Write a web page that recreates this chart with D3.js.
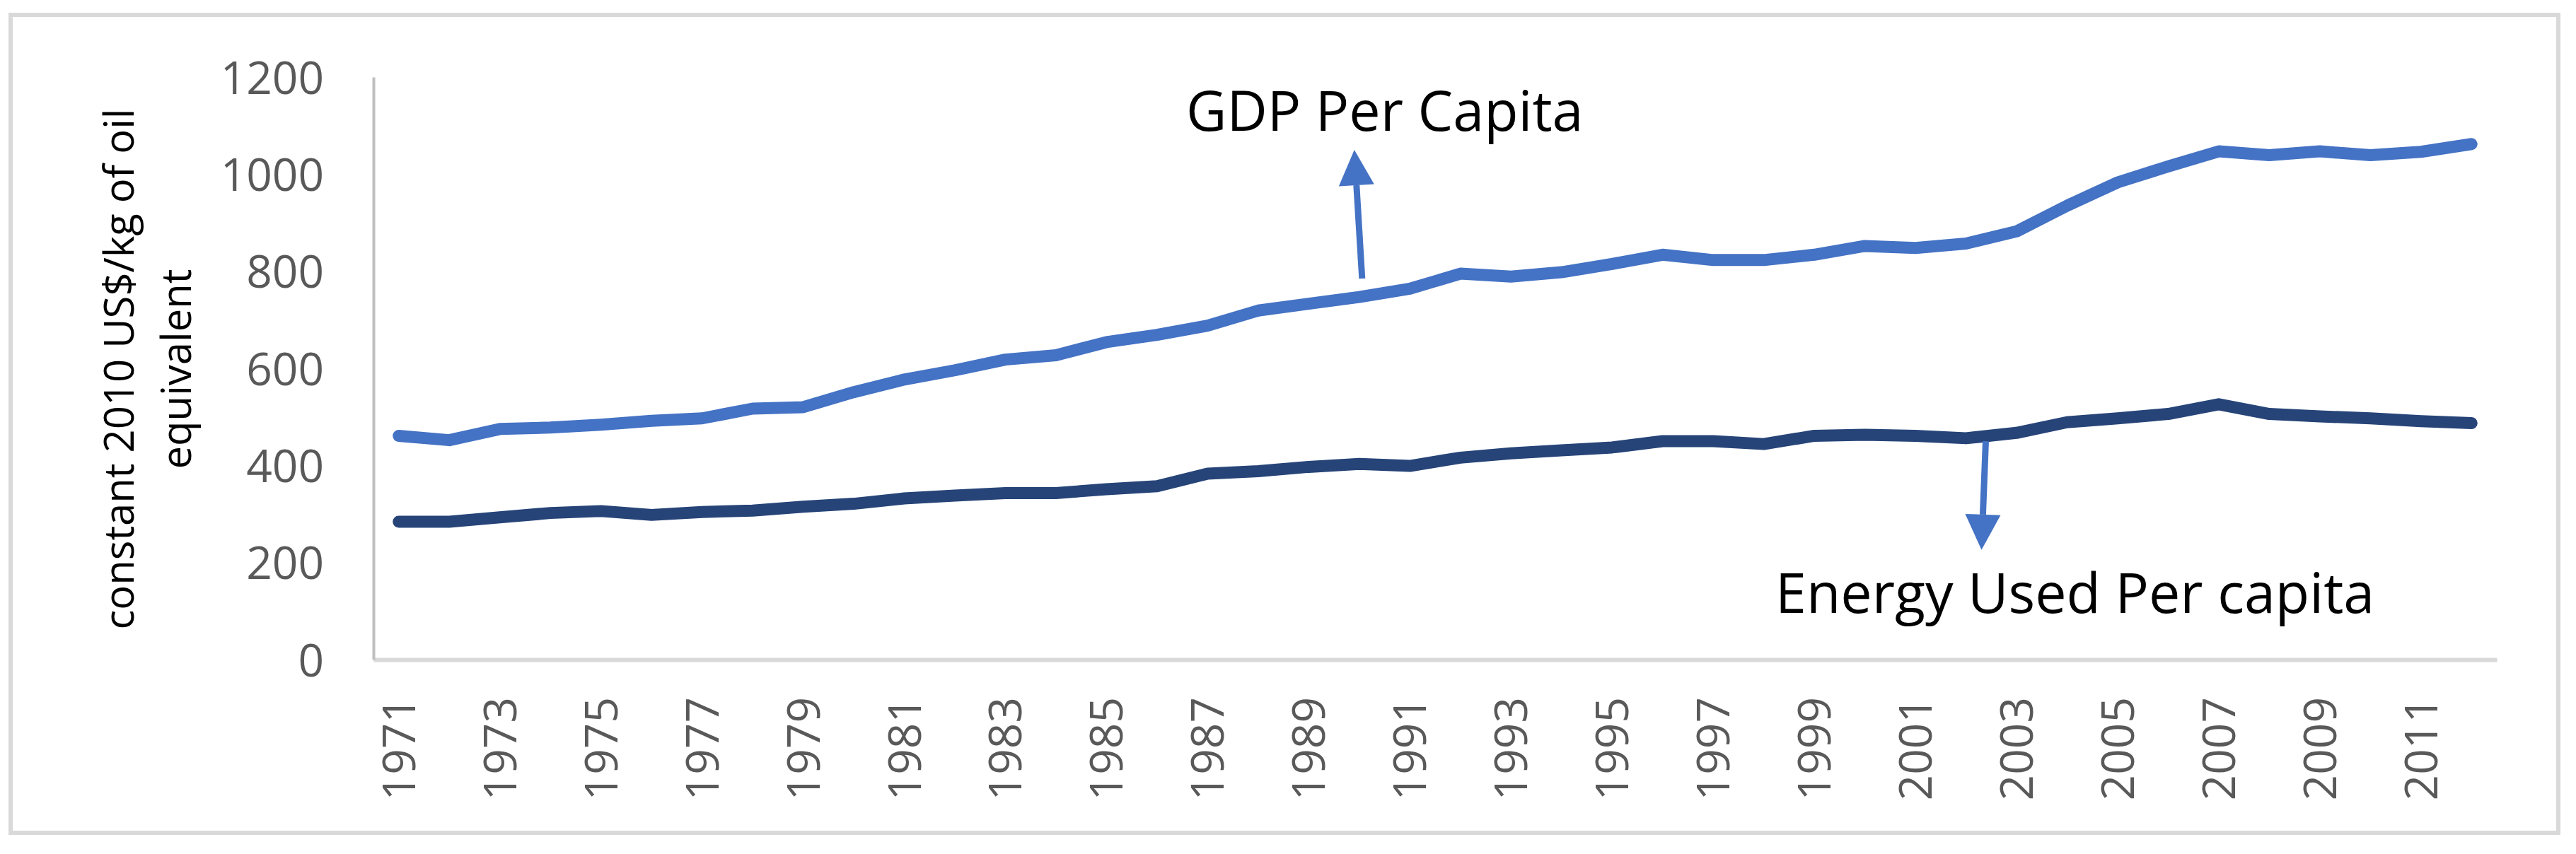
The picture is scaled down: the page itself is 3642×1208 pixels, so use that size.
<!DOCTYPE html>
<html>
<head>
<meta charset="utf-8">
<script src="https://cdn.jsdelivr.net/npm/d3@7/dist/d3.min.js"></script>
<style>
  body { margin: 0; background: #fff; }
  text { font-family: "Open Sans", "Noto Sans", sans-serif; }
</style>
</head>
<body>
<svg id="chart" width="3642" height="1208"></svg>
<script>
// years on the category axis
var years = d3.range(1971, 2013).map(String);
var tickYears = years.filter(function (d, i) { return i % 2 === 0; });
var yTicks = [0, 200, 400, 600, 800, 1000, 1200];

// GDP per capita (constant 2010 US$)
var gdp = [461, 452, 475, 478, 484, 492, 497, 517, 520, 551,
           577, 596, 618, 627, 654, 669, 688, 719, 733, 747,
           764, 795, 789, 798, 815, 834, 823, 823, 834, 852,
           848, 857, 882, 935, 983, 1016, 1047, 1039, 1047, 1039,
           1046, 1062];

// energy use per capita (kg of oil equivalent)
var energy = [284, 284, 293, 302, 306, 298, 304, 307, 315, 321,
              332, 338, 343, 343, 351, 357, 383, 388, 397, 403,
              399, 416, 425, 431, 437, 450, 450, 444, 461, 463,
              461, 456, 467, 489, 497, 506, 526, 506, 501, 497,
              491, 487];

var svg = d3.select("#chart");

svg.append("rect")
    .attr("x", 15).attr("y", 21)
    .attr("width", 3602).attr("height", 1157)
    .attr("fill", "#fff")
    .attr("stroke", "#d9d9d9")
    .attr("stroke-width", 6);

var x = d3.scaleBand().domain(years).range([528, 3530]).padding(0),
    y = d3.scaleLinear().domain([0, 1200]).range([933, 109]);

function cx(yr) { return x(yr) + x.bandwidth() / 2; }

// x axis
var gx = svg.append("g")
    .attr("transform", "translate(0," + y(0) + ")")
    .call(d3.axisBottom(x).tickValues(tickYears).tickSize(0));
gx.select(".domain").attr("stroke", "#d9d9d9").attr("stroke-width", 6);
gx.selectAll("text")
    .attr("transform", "rotate(-90)")
    .attr("x", -53)
    .attr("y", 0)
    .attr("dy", "0.36em")
    .attr("text-anchor", "end")
    .attr("fill", "#595959")
    .attr("font-size", 64);

// y axis
var gy = svg.append("g")
    .attr("transform", "translate(528,0)")
    .call(d3.axisLeft(y).tickValues(yTicks).tickFormat(d3.format("d")).tickSize(0).tickPadding(70));
gy.select(".domain").attr("stroke", "#bfbfbf").attr("stroke-width", 4);
gy.selectAll("text")
    .attr("fill", "#595959")
    .attr("font-size", 64)
    .attr("dy", "0.36em");

// y axis caption, two lines
var cap = svg.append("text")
    .attr("transform", "translate(168,522) rotate(-90)")
    .attr("text-anchor", "middle")
    .attr("font-size", 58)
    .attr("fill", "#000");
cap.append("tspan").attr("x", 0).attr("dy", "0.36em").text("constant 2010 US$/kg of oil");
cap.append("tspan").attr("x", 0).attr("dy", 81).text("equivalent");

var line = d3.line()
    .x(function (d, i) { return cx(years[i]); })
    .y(function (d) { return y(d); });

svg.append("path")
    .datum(energy)
    .attr("d", line)
    .attr("fill", "none")
    .attr("stroke", "#264478")
    .attr("stroke-width", 17)
    .attr("stroke-linecap", "round")
    .attr("stroke-linejoin", "round");

svg.append("path")
    .datum(gdp)
    .attr("d", line)
    .attr("fill", "none")
    .attr("stroke", "#4472c4")
    .attr("stroke-width", 17)
    .attr("stroke-linecap", "round")
    .attr("stroke-linejoin", "round");

// annotation arrows
function arrow(x1, y1, x2, y2) {
  var ang = Math.atan2(y2 - y1, x2 - x1),
      len = 50, half = 25,
      bx = x2 - len * Math.cos(ang), by = y2 - len * Math.sin(ang),
      px = -Math.sin(ang) * half, py = Math.cos(ang) * half;
  svg.append("line")
      .attr("x1", x1).attr("y1", y1)
      .attr("x2", bx).attr("y2", by)
      .attr("stroke", "#4472c4")
      .attr("stroke-width", 9);
  svg.append("path")
      .attr("d", "M" + x2 + "," + y2 + "L" + (bx + px) + "," + (by + py) + "L" + (bx - px) + "," + (by - py) + "Z")
      .attr("fill", "#4472c4");
}

arrow(cx("1990") + 4, y(785), cx("1990") - 7, y(1050));
arrow(cx("2002") + 28, y(450), cx("2002") + 22, y(226));

svg.append("text")
    .attr("x", 1677).attr("y", 185)
    .attr("font-size", 79)
    .attr("fill", "#000")
    .text("GDP Per Capita");

svg.append("text")
    .attr("x", 2510).attr("y", 867)
    .attr("font-size", 79)
    .attr("fill", "#000")
    .text("Energy Used Per capita");
</script>
</body>
</html>
